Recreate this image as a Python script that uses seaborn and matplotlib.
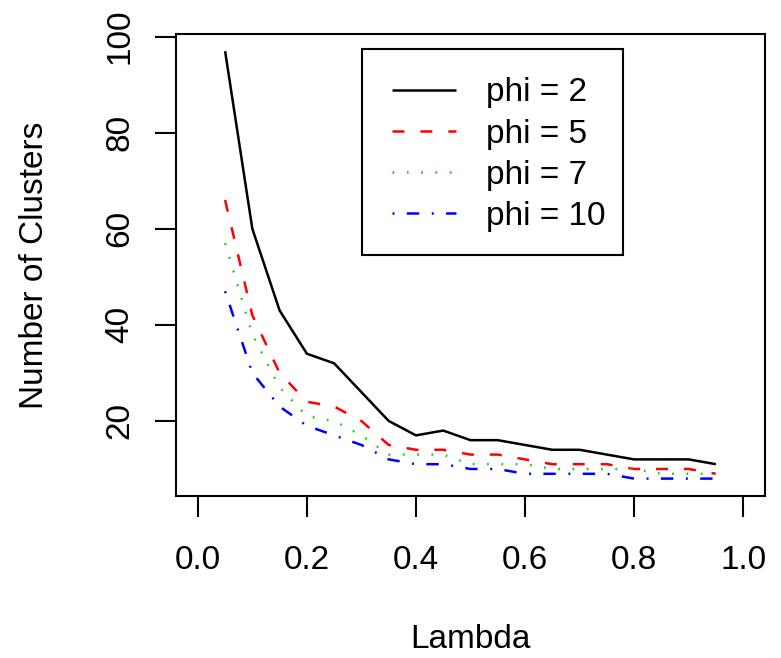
import matplotlib
matplotlib.use("Agg")
import matplotlib.pyplot as plt
import seaborn as sns
import pandas as pd
from matplotlib.patches import Rectangle

# ---- data ----
lam = [0.05, 0.10, 0.15, 0.20, 0.25, 0.30, 0.35, 0.40, 0.45, 0.50,
       0.55, 0.60, 0.65, 0.70, 0.75, 0.80, 0.85, 0.90, 0.95]
phi2 = [97, 60, 43, 34, 32, 26, 20, 17, 18, 16, 16, 15, 14, 14, 13, 12, 12, 12, 11]
phi5 = [66, 42, 30, 24, 23, 20, 15, 14, 14, 13, 13, 12, 11, 11, 11, 10, 10, 10, 9]
phi7 = [57, 38, 27, 21, 20, 17, 13, 13, 13, 11, 11, 11, 10, 10, 10, 10, 9, 9, 9]
phi10 = [47, 30, 23, 19, 17, 15, 12, 11, 11, 10, 10, 9, 9, 9, 9, 8, 8, 8, 8]
series_labels = ["phi = 2", "phi = 5", "phi = 7", "phi = 10"]
x_ticks = [0.0, 0.2, 0.4, 0.6, 0.8, 1.0]
x_tick_labels = ["0.0", "0.2", "0.4", "0.6", "0.8", "1.0"]
y_ticks = [20, 40, 60, 80, 100]
y_tick_labels = ["20", "40", "60", "80", "100"]
x_label = "Lambda"
y_label = "Number of Clusters"

# ---- style ----
sns.set_style("ticks")
plt.rcParams["font.family"] = ["Liberation Sans", "DejaVu Sans"]
plt.rcParams["lines.scale_dashes"] = False
plt.rcParams["axes.edgecolor"] = "black"
plt.rcParams["xtick.color"] = "black"
plt.rcParams["ytick.color"] = "black"
plt.rcParams["text.color"] = "black"
plt.rcParams["axes.labelcolor"] = "black"

W, H = 781, 658
fig = plt.figure(figsize=(W / 100, H / 100), dpi=100)
fig.patch.set_facecolor("white")
L, R, T, B = 176, 765, 34, 495.7
ax = fig.add_axes([L / W, 1 - B / H, (R - L) / W, (B - T) / H])
ax.set_facecolor("white")

colors = ["black", "#FF0000", "#22CC22", "#0000FF"]
styles = [(0, ()), (0, (8.6, 11.5)), (0, (1.3, 9.0)), (0, (1.4, 8.9, 8.9, 9.1))]
series = [phi2, phi5, phi7, phi10]

handles = []
for vals, lab, col, ls in zip(series, series_labels, colors, styles):
    df = pd.DataFrame({"lambda": lam, "clusters": vals})
    sns.lineplot(data=df, x="lambda", y="clusters", color=col, linestyle=ls,
                 linewidth=1.8, ax=ax, label=lab, legend=False)
    handles.append(ax.lines[-1])

# axes ranges like R (xlim=c(0,1), ylim=range(data), 4% extension)
ymin = min(min(s) for s in series)
ymax = max(max(s) for s in series)
yr = ymax - ymin
ax.set_xlim(-0.04, 1.04)
ax.set_ylim(ymin - 0.04 * yr, ymax + 0.04 * yr)

ax.set_xticks(x_ticks)
ax.set_xticklabels(x_tick_labels)
ax.set_yticks(y_ticks)
ax.set_yticklabels(y_tick_labels)
ax.tick_params(axis="both", length=15, width=1.5, labelsize=24, direction="out")
ax.tick_params(axis="x", pad=20.5)
ax.tick_params(axis="y", pad=14.4, labelrotation=90)
for t in ax.get_yticklabels():
    t.set_va("center")

for sp in ax.spines.values():
    sp.set_visible(True)
    sp.set_linewidth(1.5)
    sp.set_color("black")

ax.set_xlabel(x_label, fontsize=24)
ax.set_ylabel(y_label, fontsize=24)
ax.xaxis.set_label_coords(0.5, (B - 624) / (B - T))
ax.yaxis.set_label_coords((50.3 - L) / (R - L), 0.5)

# legend
leg = ax.legend(handles=handles, labels=series_labels, loc="upper left",
                bbox_to_anchor=((391.7 - L) / (R - L), (B - 77.5) / (B - T)),
                frameon=False, borderpad=0, borderaxespad=0,
                handlelength=1.92, handletextpad=0.92, labelspacing=0.305,
                fontsize=24)
rect = Rectangle(((361.7 - L) / (R - L), (B - 255) / (B - T)),
                 (623.3 - 361.7) / (R - L), (255 - 49.3) / (B - T),
                 transform=ax.transAxes, fill=False, edgecolor="black",
                 linewidth=1.5, zorder=5)
ax.add_patch(rect)

fig.savefig("out.png", dpi=100, facecolor="white")
